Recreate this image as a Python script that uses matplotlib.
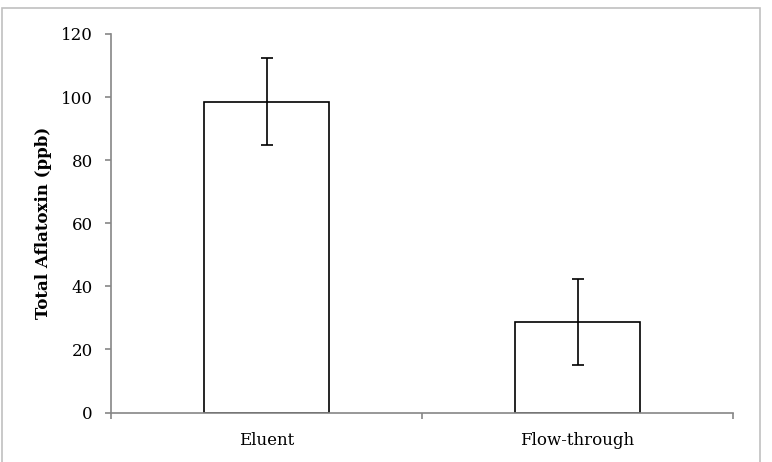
import matplotlib
matplotlib.use("Agg")
import matplotlib.pyplot as plt
from matplotlib.patches import Rectangle
import numpy as np

categories = ["Eluent", "Flow-through"]
values = [98.5, 28.7]
errors = [13.8, 13.7]
yticks = [0, 20, 40, 60, 80, 100, 120]

plt.rcParams['font.family'] = ['DejaVu Serif']

W, H = 772, 462
fig = plt.figure(figsize=(W/100, H/100), dpi=100)
fig.patch.set_facecolor('white')

# outer chart frame
frame = Rectangle((2/W, -0.02), (760-2)/W, 1 - 8/H + 0.02, transform=fig.transFigure,
                  fill=False, edgecolor='#c0c0c0', linewidth=1.2, clip_on=False)
fig.patches.append(frame)

ax = fig.add_axes([111/W, 1-412.5/H, (733-111)/W, (412.5-34)/H])
x = np.arange(len(categories))
ax.bar(x, values, width=0.4, color='white', edgecolor='black', linewidth=1.2, zorder=2)
ax.errorbar(x, values, yerr=errors, fmt='none', ecolor='black', elinewidth=1.2,
            capsize=4.5, capthick=1.2, zorder=3)

ax.set_xlim(-0.5, 1.5)
ax.set_ylim(0, 120)
ax.set_yticks(yticks)
ax.set_yticklabels([str(v) for v in yticks], fontsize=12)
ax.set_xticks(x)
ax.set_xticklabels(categories, fontsize=12)
ax.set_xticks([-0.5, 0.5, 1.5], minor=True)
ax.tick_params(axis='x', which='major', length=0, pad=14)
ax.tick_params(axis='x', which='minor', length=4, color='#868686', width=1.2, direction='out')
ax.tick_params(axis='y', length=4, color='#868686', width=1.2, direction='out', pad=9)

for s in ['top', 'right']:
    ax.spines[s].set_visible(False)
for s in ['left', 'bottom']:
    ax.spines[s].set_color('#868686')
    ax.spines[s].set_linewidth(1.2)

fig.text(44/W, 1-223/H, "Total Aflatoxin (ppb)", rotation=90, ha='center', va='center',
         fontsize=12, fontweight='bold')

fig.savefig("out.png", dpi=100)
